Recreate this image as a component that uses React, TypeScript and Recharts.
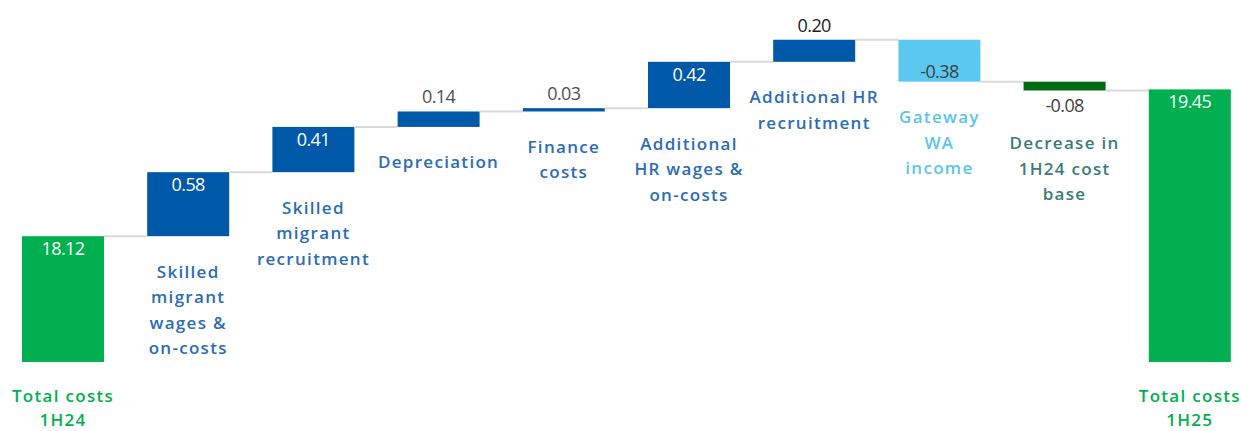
import { BarChart, Bar, XAxis, YAxis, Cell, LabelList } from 'recharts'

const CATEGORIES = [
  'Total costs\n1H24',
  'Skilled\nmigrant\nwages &\non-costs',
  'Skilled\nmigrant\nrecruitment',
  'Depreciation',
  'Finance\ncosts',
  'Additional\nHR wages &\non-costs',
  'Additional HR\nrecruitment',
  'Gateway\nWA\nincome',
  'Decrease in\n1H24 cost\nbase',
  'Total costs\n1H25',
]
const VALUES = [18.12, 0.58, 0.41, 0.14, 0.03, 0.42, 0.2, -0.38, -0.08, 19.45]
const KINDS = ['total', 'step', 'step', 'step', 'step', 'step', 'step', 'step', 'step', 'total']

// styling per bar
const FILLS = ['#00B050', '#0058A8', '#0058A8', '#0058A8', '#0058A8', '#0058A8', '#0058A8', '#5BC8F0', '#006B12', '#00B050']
const TEXT_COLORS = ['#00B050', '#2B6CB6', '#2B6CB6', '#2B6CB6', '#2B6CB6', '#2B6CB6', '#2B6CB6', '#5CC4EE', '#3A7C7A', '#00B050']
const VALUE_POS = ['inside', 'inside', 'inside', 'above', 'above', 'inside', 'above', 'inside', 'below', 'inside']
const VALUE_COLORS = ['#fff', '#fff', '#fff', '#505050', '#505050', '#fff', '#202020', '#404040', '#404040', '#fff']

const Y_MIN = 16.98
const Y_MAX = 20.26
const W = 1252
const H = 431
const BAND = W / CATEGORIES.length
const FONT = '"Open Sans", sans-serif'

let run = 0
const data = CATEGORIES.map((name, i) => {
  const v = VALUES[i]
  let range: number[]
  if (KINDS[i] === 'total') {
    range = [Y_MIN, v]
    run = v
  } else {
    const end = run + v
    range = [Math.min(run, end), Math.max(run, end)]
    run = end
  }
  return { name, value: v, range }
})

const BarShape = (props: any) => {
  const { x, y, width, height, index, fill } = props
  const v = VALUES[index]
  const endY = v < 0 && KINDS[index] !== 'total' ? y + height : y
  const last = index === CATEGORIES.length - 1
  return (
    <g>
      <rect x={x} y={y} width={width} height={Math.max(height, 1)} fill={fill} />
      {!last && (
        <line x1={x + width} x2={x + BAND} y1={endY} y2={endY} stroke="#D9D9D9" strokeWidth={2} />
      )}
    </g>
  )
}

const ValueLabel = (props: any) => {
  const { x, y, width, height, index } = props
  const v = VALUES[index]
  const neg = v < 0 && KINDS[index] !== 'total'
  const pos = VALUE_POS[index]
  let cy = 0
  if (pos === 'inside') cy = neg ? y + height - 11 : y + 12
  else if (pos === 'above') cy = y - 15
  else cy = y + height + 14
  return (
    <text x={x + width / 2} y={cy} textAnchor="middle" dominantBaseline="central"
      fill={VALUE_COLORS[index]} fontFamily={FONT} fontSize={18} fontWeight={500} letterSpacing={-0.6}>
      {v.toFixed(2)}
    </text>
  )
}

const CategoryLabel = (props: any) => {
  const { x, y, width, height, index } = props
  const lines = CATEGORIES[index].split('\n')
  let top = y + height + 35
  let step = 25.5
  if (KINDS[index] === 'total') {
    top = H - 69 + 33
    step = 24
  }
  if (VALUE_POS[index] === 'below') top = y + height + 52
  return (
    <text x={x + width / 2} textAnchor="middle" fill={TEXT_COLORS[index]} fontFamily={FONT}
      fontSize={17} fontWeight={600} letterSpacing={1.3}>
      {lines.map((l, k) => (
        <tspan key={k} x={x + width / 2} y={top + k * step} dominantBaseline="central">{l}</tspan>
      ))}
    </text>
  )
}

export default function App() {
  return (
    <div style={{ position: 'absolute', left: 0, top: 0, width: 1241, height: H, overflow: 'hidden', background: '#fff' }}>
      <BarChart width={W} height={H} data={data} margin={{ top: 0, right: 0, left: 0, bottom: 69 }} barSize={82}>
        <XAxis dataKey="name" hide />
        <YAxis hide domain={[Y_MIN, Y_MAX]} />
        <Bar dataKey="range" isAnimationActive={false} shape={BarShape}>
          {data.map((d, i) => (
            <Cell key={i} fill={FILLS[i]} />
          ))}
          <LabelList dataKey="value" content={ValueLabel} />
          <LabelList dataKey="name" content={CategoryLabel} />
        </Bar>
      </BarChart>
    </div>
  )
}
